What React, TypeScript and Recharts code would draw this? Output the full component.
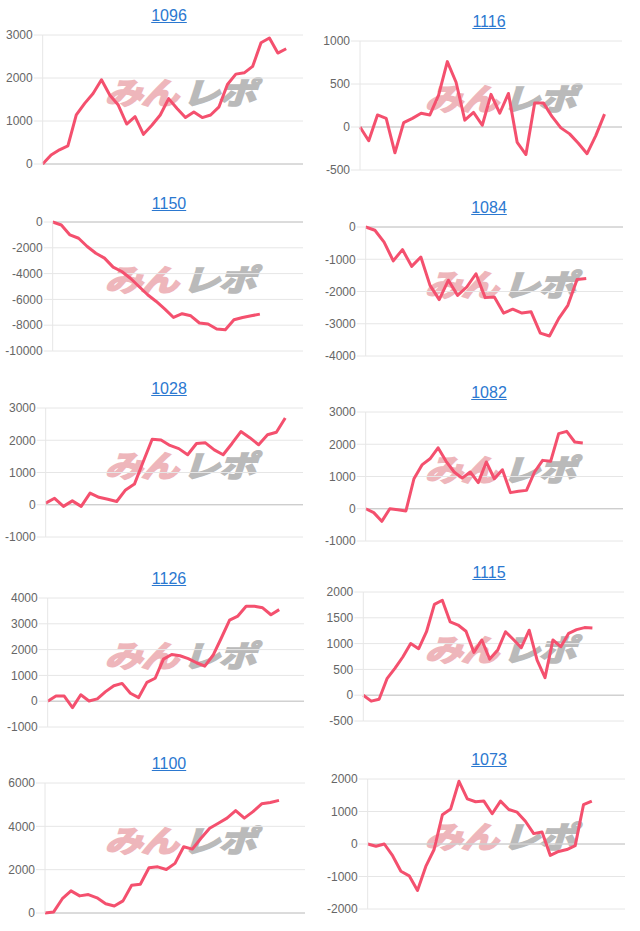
import { LineChart, Line, XAxis, YAxis, CartesianGrid, ReferenceLine } from 'recharts';

// machine numbers, reading order: left column then right column per row
const titles = ['1096', '1116', '1150', '1084', '1028', '1082', '1126', '1115', '1100', '1073'];

// how many slots (days) each x axis holds
const dayCounts = [32, 31, 30, 29, 30, 33, 32, 34, 31, 32];

const yTicks = [
    [0, 1000, 2000, 3000],
    [-500, 0, 500, 1000],
    [-10000, -8000, -6000, -4000, -2000, 0],
    [-4000, -3000, -2000, -1000, 0],
    [-1000, 0, 1000, 2000, 3000],
    [-1000, 0, 1000, 2000, 3000],
    [-1000, 0, 1000, 2000, 3000, 4000],
    [-500, 0, 500, 1000, 1500, 2000],
    [0, 2000, 4000, 6000],
    [-2000, -1000, 0, 1000, 2000],
];

const values1096 = [0, 210, 330, 420, 1140, 1410, 1640, 1960, 1600, 1370, 930, 1100, 690, 900, 1140, 1520, 1290, 1080, 1210, 1080, 1140, 1330, 1850, 2090, 2120, 2270, 2820, 2930, 2580, 2680];
const values1116 = [0, -160, 140, 100, -300, 50, 100, 160, 140, 370, 760, 520, 80, 170, 20, 380, 160, 390, -180, -320, 280, 280, 120, -10, -80, -190, -310, -100, 150];
const values1150 = [0, -230, -1000, -1260, -1900, -2420, -2800, -3500, -3840, -4360, -5000, -5640, -6160, -6750, -7400, -7110, -7270, -7830, -7910, -8300, -8350, -7580, -7400, -7270, -7140];
const values1084 = [0, -100, -470, -1050, -700, -1220, -930, -1810, -2250, -1650, -2120, -1860, -1450, -2190, -2170, -2670, -2550, -2670, -2630, -3290, -3380, -2840, -2430, -1630, -1600];
const values1028 = [50, 200, -50, 120, -50, 360, 230, 170, 100, 460, 640, 1340, 2030, 2010, 1840, 1740, 1550, 1900, 1920, 1700, 1550, 1900, 2270, 2080, 1860, 2170, 2250, 2690];
const values1082 = [0, -120, -390, 0, -30, -70, 930, 1360, 1550, 1890, 1470, 1140, 950, 1140, 810, 1450, 930, 1210, 500, 540, 570, 1140, 1500, 1470, 2330, 2400, 2070, 2040];
const values1126 = [0, 200, 200, -250, 250, 10, 90, 370, 600, 690, 310, 140, 730, 890, 1630, 1810, 1760, 1650, 1490, 1360, 1780, 2450, 3140, 3300, 3680, 3680, 3620, 3350, 3550];
const values1115 = [0, -115, -80, 320, 520, 740, 1000, 900, 1230, 1760, 1840, 1420, 1360, 1240, 830, 1070, 700, 870, 1230, 1080, 920, 1260, 680, 340, 1070, 940, 1200, 1270, 1310, 1300];
const values1100 = [0, 50, 660, 1020, 790, 850, 700, 430, 320, 560, 1280, 1330, 2090, 2130, 2010, 2290, 3060, 2950, 3450, 3910, 4140, 4380, 4730, 4380, 4680, 5040, 5100, 5200];
const values1073 = [0, -70, 0, -360, -840, -980, -1430, -690, -170, 900, 1080, 1930, 1390, 1300, 1320, 930, 1320, 1060, 980, 700, 320, 370, -350, -230, -170, -50, 1210, 1320];

const seriesValues = [values1096, values1116, values1150, values1084, values1028, values1082, values1126, values1115, values1100, values1073];

// page layout of each panel (px): column offset, title baseline, plot box
const layout = [
    { x0: 0, base: 21.7, top: 35, bottom: 164, left: 42.7, right: 303 },
    { x0: 320, base: 27.3, top: 41, bottom: 170, left: 360, right: 622 },
    { x0: 0, base: 209, top: 222, bottom: 351, left: 52.7, right: 303 },
    { x0: 320, base: 213.3, top: 227, bottom: 356, left: 365.7, right: 623 },
    { x0: 0, base: 394, top: 408, bottom: 537, left: 45.7, right: 303 },
    { x0: 320, base: 398.3, top: 412, bottom: 541, left: 365.7, right: 623 },
    { x0: 0, base: 584, top: 598, bottom: 727, left: 47.7, right: 304 },
    { x0: 320, base: 578.3, top: 592, bottom: 721, left: 363.3, right: 624 },
    { x0: 0, base: 769, top: 783, bottom: 913, left: 45, right: 305 },
    { x0: 320, base: 765, top: 779, bottom: 909, left: 367.7, right: 625 },
];

const LINE_COLOR = '#f4506e';
const GRID_COLOR = '#e6e6e6';
const FONT = '"Liberation Sans", Arial, sans-serif';

function Watermark({ cx, cy }: { cx: number; cy: number }) {
    return (
        <div
            style={{
                position: 'absolute',
                left: cx - 90,
                top: cy - 20,
                width: 180,
                height: 40,
                display: 'flex',
                alignItems: 'center',
                justifyContent: 'center',
                transform: 'skewX(-18deg) scaleX(1.25)',
                fontFamily: '"Noto Sans CJK JP", sans-serif',
                fontWeight: 700,
                fontSize: 30,
                lineHeight: '40px',
                letterSpacing: -1,
                whiteSpace: 'nowrap',
            }}
        >
            <span style={{ color: '#eeb6bb', WebkitTextStroke: '2px #eeb6bb' }}>みん</span>
            <span style={{ color: '#bababa', WebkitTextStroke: '2px #bababa', marginLeft: 4 }}>レポ</span>
        </div>
    );
}

function Panel({ index }: { index: number }) {
    const p = layout[index];
    const ticks = yTicks[index];
    const values = seriesValues[index];
    const data = Array.from({ length: dayCounts[index] }, (_, i) => ({
        day: i + 1,
        value: i < values.length ? values[i] : null,
    }));
    const mTop = 10;
    const mBottom = 6;
    const height = p.bottom - p.top + mTop + mBottom;

    return (
        <>
            <div
                style={{
                    position: 'absolute',
                    left: p.x0,
                    width: 338,
                    top: p.base - 14.5,
                    textAlign: 'center',
                    fontFamily: FONT,
                    fontSize: 16,
                    lineHeight: '18px',
                }}
            >
                <a href="#" style={{ color: '#2b78d0', textDecoration: 'underline' }}>{titles[index]}</a>
            </div>
            <Watermark cx={p.x0 + 184} cy={(p.top + p.bottom) / 2 - 9} />
            <div style={{ position: 'absolute', left: p.x0, top: p.top - mTop }}>
                <LineChart
                    width={320}
                    height={height}
                    data={data}
                    margin={{ top: mTop, bottom: mBottom, left: 0, right: p.x0 + 320 - p.right }}
                >
                    <CartesianGrid vertical={false} stroke={GRID_COLOR} />
                    <XAxis dataKey="day" hide />
                    <YAxis
                        width={p.left - p.x0}
                        domain={[ticks[0], ticks[ticks.length - 1]]}
                        ticks={ticks}
                        interval={0}
                        tickSize={9}
                        tickMargin={1}
                        tick={{ fill: '#666', fontSize: 12, fontFamily: FONT }}
                        tickLine={{ stroke: GRID_COLOR }}
                        axisLine={{ stroke: GRID_COLOR }}
                    />
                    <ReferenceLine y={0} stroke="#c4c4c4" />
                    <Line
                        type="linear"
                        dataKey="value"
                        stroke={LINE_COLOR}
                        strokeWidth={3}
                        strokeLinejoin="round"
                        dot={false}
                        activeDot={false}
                        isAnimationActive={false}
                    />
                </LineChart>
            </div>
        </>
    );
}

export default function App() {
    return (
        <div style={{ position: 'relative', width: 640, height: 931, background: '#fff', overflow: 'hidden' }}>
            <style>{'body{margin:0}'}</style>
            {titles.map((t, i) => (
                <Panel key={t} index={i} />
            ))}
        </div>
    );
}
